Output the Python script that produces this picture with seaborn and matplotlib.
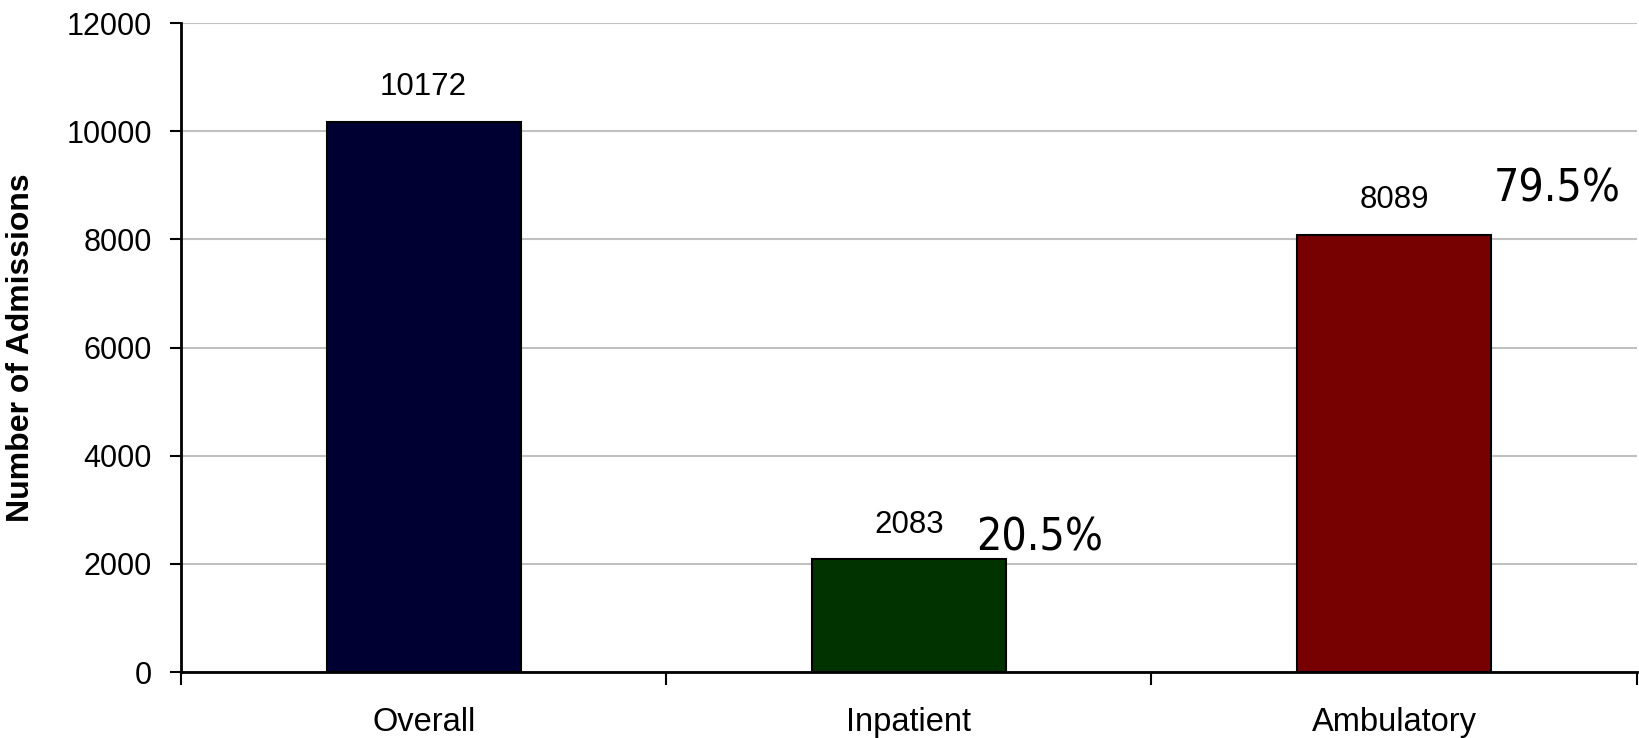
import matplotlib
matplotlib.use("Agg")
import matplotlib.pyplot as plt
import seaborn as sns
import pandas as pd

# Admissions by care setting
categories = ["Overall", "Inpatient", "Ambulatory"]
admissions = [10172, 2083, 8089]
share_labels = ["", "20.5%", "79.5%"]
bar_colors = ["#000033", "#003300", "#770000"]
y_ticks = [0, 2000, 4000, 6000, 8000, 10000, 12000]

sns.set_theme(style="white")
plt.rcParams["font.family"] = ["Liberation Sans", "DejaVu Sans"]
plt.rcParams["text.color"] = "black"

df = pd.DataFrame({"category": categories, "admissions": admissions})

fig = plt.figure(figsize=(16.4, 7.38), dpi=100)
ax = fig.add_axes([0.1104, 0.0894, 0.8876, 0.8794])

sns.barplot(
    data=df, x="category", y="admissions", hue="category",
    palette=bar_colors, legend=False, width=0.4,
    edgecolor="black", linewidth=1.5, ax=ax, saturation=1,
)

ax.set_xlim(-0.5, len(categories) - 0.5)
ax.set_ylim(y_ticks[0], y_ticks[-1])
ax.set_yticks(y_ticks)
ax.set_yticklabels([str(t) for t in y_ticks])
ax.yaxis.grid(True, color="#c0c0c0", linewidth=1.5)
ax.set_axisbelow(True)

# category labels centred on bars, tick marks on the boundaries between them
ax.set_xticks(range(len(categories)))
ax.set_xticklabels(categories)
ax.set_xticks([i - 0.5 for i in range(len(categories) + 1)], minor=True)
ax.tick_params(axis="x", which="major", length=0, pad=25, labelsize=23.5, labelcolor="black")
ax.tick_params(axis="x", which="minor", length=9, width=1.5, color="black", direction="out", bottom=True)
ax.tick_params(axis="y", which="major", length=8, width=1.5, color="black", direction="out",
               pad=13, labelsize=22, labelcolor="black", left=True)

for side in ["top", "right"]:
    ax.spines[side].set_visible(False)
for side in ["left", "bottom"]:
    ax.spines[side].set_color("black")
    ax.spines[side].set_linewidth(2)

ax.set_xlabel("")
ax.set_ylabel("Number of Admissions", fontsize=23, fontweight="bold", labelpad=22, color="black")

for container in ax.containers:
    ax.bar_label(container, labels=[f"{int(v)}" for v in container.datavalues],
                 padding=14, fontsize=22.5, color="black")

# share of total, placed up and to the right of each sub-bar
share_offsets = {1: (24, 0), 2: (2, 17)}
patches = [p for c in ax.containers for p in c.patches]
for i, lab in enumerate(share_labels):
    if not lab:
        continue
    p = patches[i]
    dx, dy = share_offsets[i]
    ax.annotate(lab, xy=(p.get_x() + p.get_width(), p.get_height()),
                xytext=(dx, dy), textcoords="offset points",
                ha="center" if i == 1 else "left", va="bottom",
                fontsize=32, family="DejaVu Sans", fontstretch="condensed", color="black")

fig.savefig("out.png", dpi=100, facecolor="white")
